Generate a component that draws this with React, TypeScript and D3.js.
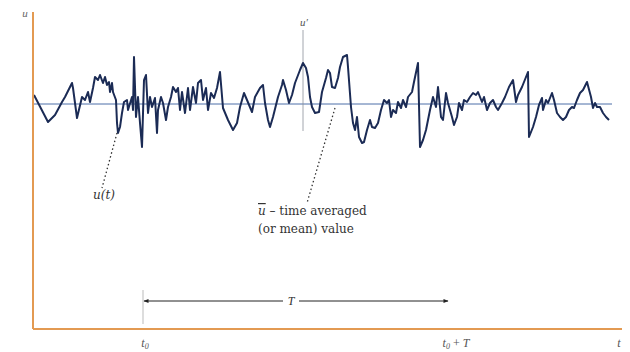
import * as d3 from 'd3';

const signal: [number, number][] = [
  [1, 9], [15, -18], [22, -11], [29, 2], [32, 7], [34, 11], [39, 21], [40, 16], [44, -14],
  [49, 7], [52, 4], [55, 12], [57, 2], [60, 16], [62, 27], [65, 24], [67, 29], [70, 21],
  [72, 27], [74, 19], [76, 22], [77, 12], [79, 21], [80, 12], [83, 4], [84, -19], [85, -29],
  [87, -23], [89, -9], [91, 2], [94, 4], [95, -6], [99, 7], [100, -6], [101, 47], [103, -13],
  [105, 7], [107, -19], [109, -43], [111, 24], [113, 29], [115, -9], [117, 7], [119, -3],
  [122, 6], [124, -29], [125, -6], [128, 7], [130, 1], [133, -16], [135, -3], [138, 7],
  [140, 17], [143, 12], [145, 16], [147, -6], [149, 12], [152, -9], [155, 16], [157, -6],
  [160, 17], [163, 1], [165, 21], [168, 24], [170, 4], [173, 16], [175, -6], [178, 11],
  [181, 6], [184, 16], [187, 32], [190, -4], [195, -16], [200, -26], [204, -19], [207, -3],
  [211, 11], [214, 4], [219, -8], [222, 7], [227, 16], [230, 19], [232, 1], [235, -16],
  [237, -23], [240, -13], [245, 7], [249, 19], [250, 24], [253, 14], [256, 1], [259, 9],
  [262, 21], [267, 34], [270, 41], [273, 36], [275, 27], [277, 7], [279, -3], [282, -9],
  [286, -8], [289, 12], [293, 26], [295, 34], [297, 31], [299, 17], [302, 16], [305, 26],
  [307, 37], [310, 47], [314, 49], [315, 37], [318, -3], [320, -19], [322, -26], [324, -13],
  [326, -33], [329, -39], [331, -38], [334, -26], [337, -16], [339, -23], [342, -24],
  [345, -19], [348, -6], [351, 4], [354, 1], [356, 4], [358, -13], [360, -6], [363, -9],
  [365, 2], [368, -4], [370, 4], [373, -3], [375, 7], [379, 12], [381, 22], [385, 41],
  [387, -43], [390, -36], [393, -26], [397, -6], [400, 7], [403, -3], [405, 17], [408, -13],
  [410, -16], [413, 11], [415, 1], [419, -13], [421, -21], [424, -13], [426, 1], [429, -6],
  [431, 4], [434, 2], [437, 7], [440, 11], [443, 9], [445, 12], [449, 2], [451, 7],
  [454, -6], [457, 1], [460, 4], [463, -3], [465, -6], [469, 1], [472, 7], [476, 17],
  [480, 24], [483, 2], [485, 9], [489, 17], [495, 32], [496, -33], [500, -23], [503, -13],
  [506, -1], [509, 6], [510, -6], [513, 4], [515, 1], [519, 11], [521, 4], [524, -9],
  [527, -13], [530, -16], [533, -13], [536, -6], [539, -3], [541, -4], [544, 4], [547, 11],
  [550, 14], [554, 22], [558, 7], [560, -4], [562, 1], [564, -3], [567, -3], [570, -9],
  [573, -13], [576, -16],
];

const tRange: [number, number] = [0, 589];
const uRange: [number, number] = [-225, 92];
const meanEnd = 579;
const t0 = 110;
const period = 305;
const uPrimeAt = 270;

const W = 630;
const H = 352;

export default function App() {
  const x = d3.scaleLinear().domain(tRange).range([33, 622]);
  const y = d3.scaleLinear().domain(uRange).range([329, 12]);
  const line = d3
    .line<[number, number]>()
    .x((d) => x(d[0]))
    .y((d) => y(d[1]));

  const xs = x(t0);
  const xe = x(t0 + period);
  const arrowY = 301;
  const midX = 291;
  const serif = '"Liberation Serif", "DejaVu Serif", serif';
  const wide = '"DejaVu Serif", serif';

  return (
    <svg
      width={W}
      height={H}
      style={{ position: 'absolute', left: 0, top: 0, background: '#fff' }}
    >
      <defs>
        <marker id="ah" viewBox="0 0 10 10" refX="9" refY="5" markerWidth="7" markerHeight="5" orient="auto-start-reverse">
          <path d="M0,1 L10,5 L0,9 z" fill="#222" />
        </marker>
      </defs>

      {/* mean line */}
      <line x1={x(0)} x2={x(meanEnd)} y1={y(0)} y2={y(0)} stroke="#4c6ea8" strokeWidth={1} />

      {/* u' marker */}
      <line x1={x(uPrimeAt)} x2={x(uPrimeAt)} y1={30} y2={131} stroke="#8a8f99" strokeWidth={0.8} />
      <text x={x(uPrimeAt) + 1} y={26} fontFamily={serif} fontStyle="italic" fontSize={11} fill="#555" textAnchor="middle">
        u′
      </text>

      {/* signal */}
      <path d={line(signal) ?? ''} fill="none" stroke="#1b2b55" strokeWidth={2} strokeLinejoin="round" />

      {/* leaders */}
      <line x1={117} y1={133} x2={102} y2={188} stroke="#333" strokeWidth={1.3} strokeDasharray="1.5,2.5" />
      <line x1={335} y1={108} x2={307} y2={203} stroke="#333" strokeWidth={1.3} strokeDasharray="1.5,2.5" />
      <text x={93} y={199} fontFamily={wide} fontStyle="italic" fontSize={12} fill="#333">
        u(t)
      </text>
      <text x={258} y={215} fontFamily={wide} fontSize={12} fill="#333">
        <tspan fontStyle="italic" textDecoration="overline">u</tspan> – time averaged
      </text>
      <text x={258} y={233} fontFamily={wide} fontSize={12} fill="#333">
        (or mean) value
      </text>

      {/* averaging interval T */}
      <line x1={xs} x2={xs} y1={290} y2={324} stroke="#aaa" strokeWidth={0.8} />
      <line x1={xs + 1} x2={midX - 8} y1={arrowY} y2={arrowY} stroke="#222" strokeWidth={1} markerStart="url(#ah)" />
      <line x1={midX + 8} x2={xe} y1={arrowY} y2={arrowY} stroke="#222" strokeWidth={1} markerEnd="url(#ah)" />
      <text x={midX} y={arrowY + 4} fontFamily={serif} fontStyle="italic" fontSize={12} fill="#333" textAnchor="middle">
        T
      </text>

      {/* axes */}
      <line x1={x(0)} x2={x(0)} y1={y(uRange[1])} y2={y(uRange[0])} stroke="#e39a52" strokeWidth={2} />
      <line x1={x(0)} x2={x(tRange[1])} y1={y(uRange[0])} y2={y(uRange[0])} stroke="#e39a52" strokeWidth={2} />
      <text x={25} y={17} fontFamily={serif} fontStyle="italic" fontSize={11} fill="#666" textAnchor="middle">
        u
      </text>
      <text x={xs + 2} y={347} fontFamily={serif} fontStyle="italic" fontSize={12} fill="#555" textAnchor="middle">
        t<tspan fontSize={8} dy={2}>0</tspan>
      </text>
      <text x={456} y={347} fontFamily={serif} fontStyle="italic" fontSize={12} fill="#555" textAnchor="middle">
        t<tspan fontSize={8} dy={2}>0</tspan>
        <tspan dy={-2} fontStyle="normal"> + </tspan>T
      </text>
      <text x={619} y={347} fontFamily={serif} fontStyle="italic" fontSize={12} fill="#555" textAnchor="middle">
        t
      </text>
    </svg>
  );
}
